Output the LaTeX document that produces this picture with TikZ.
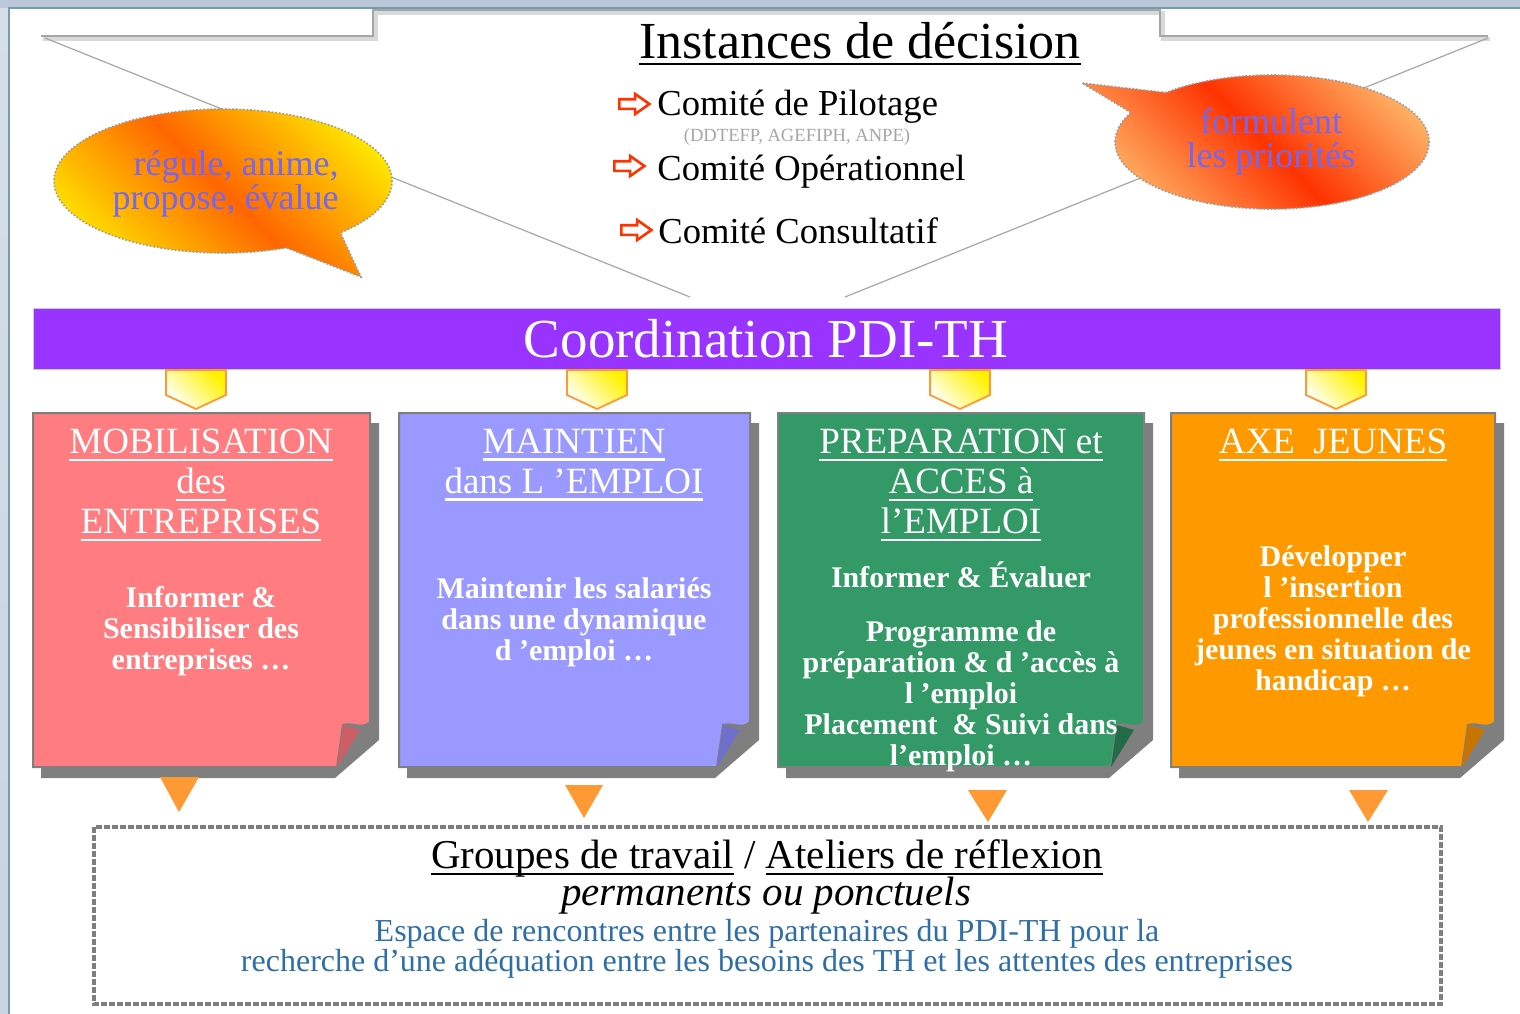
\documentclass[tikz,border=0pt]{standalone}
\usepackage{fontspec}
\setmainfont{Liberation Serif}
\usetikzlibrary{shapes.arrows}

\definecolor{pagebg}{HTML}{BCC8DA}
\definecolor{pageline}{HTML}{6FA0B0}
\definecolor{barpurple}{HTML}{9933FF}
\definecolor{mobred}{HTML}{FF7C80}
\definecolor{mobflap}{HTML}{CC5F66}
\definecolor{maintblue}{HTML}{9999FF}
\definecolor{maintflap}{HTML}{6F6FCC}
\definecolor{prepgreen}{HTML}{339966}
\definecolor{prepflap}{HTML}{236B47}
\definecolor{jeuneorange}{HTML}{FF9900}
\definecolor{jeuneflap}{HTML}{C87400}
\definecolor{notegray}{HTML}{7F7F7F}
\definecolor{droporange}{HTML}{FF9933}
\definecolor{arrowred}{HTML}{FF3300}
\definecolor{bubbletext}{HTML}{7766EE}
\definecolor{bubyellow}{HTML}{FFE800}
\definecolor{buborange}{HTML}{FF6600}
\definecolor{bubred}{HTML}{FF3300}
\definecolor{bubpeach}{HTML}{FFB366}
\definecolor{espaceblue}{HTML}{2E6FA7}

\newsavebox{\ulbox}
\newcommand{\ulbar}[1]{\sbox{\ulbox}{#1}\rlap{\rule[-3.6pt]{\wd\ulbox}{1.3pt}}\usebox{\ulbox}}

\tikzset{
  frameline/.style={draw=gray!70, line width=0.8pt},
  frameshadow/.style={draw=gray!30, line width=2pt},
  frameside/.style={draw=gray!70, line width=0.6pt},
  bubble/.style={draw=gray!80, densely dotted, line width=0.8pt},
  leftbubble/.style={top color=bubyellow, bottom color=bubyellow, middle color=buborange, shading angle=-45},
  rightbubble/.style={top color=bubpeach, bottom color=bubpeach, middle color=bubred, shading angle=-45},
  bubbletxt/.style={text=bubbletext, inner sep=0pt, font=\fontsize{18}{17}\selectfont},
  comarrow/.style={single arrow, draw=arrowred, fill=white, line width=1.3pt, inner sep=0pt,
    text height=3.5pt, text depth=0pt, minimum height=15pt, single arrow head extend=2.6pt,
    single arrow tip angle=70},
  comite/.style={inner sep=0pt, anchor=base west, font=\fontsize{18.3}{20}\selectfont},
  coordbar/.style={fill=barpurple, draw=gray!40, line width=0.5pt},
  chevron/.style={draw=droporange, line width=0.9pt, top color=yellow!90!orange, bottom color=white, shading angle=-45},
  note/.style={draw=notegray, line width=1pt},
  noteshadow/.style={fill=notegray},
  droptri/.style={fill=droporange},
  notetitle/.style={text=white, align=center, inner sep=0pt, anchor=north, font=\fontsize{18.5}{20}\selectfont},
  notebody/.style={text=white, align=center, inner sep=0pt, anchor=north, font=\bfseries\fontsize{15}{15.5}\selectfont},
  atelier/.style={draw=notegray, line width=2pt, dash pattern=on 3pt off 1pt},
}

\begin{document}
\begin{tikzpicture}[x=0.5pt, y=-0.5pt]
  \useasboundingbox (0,0) rectangle (1520,1013);
  % page
  \fill[pagebg] (0,0) rectangle (1520,1013);
  \shade[top color=pagebg!60!white, bottom color=pagebg!80!white] (0,8) rectangle (8,1013);
  \filldraw[fill=white, draw=pageline, line width=0.8pt] (9,8) rectangle (1530,1020);

  % decision area
  \draw[frameshadow] (43,39) -- (376,39) -- (376,13) -- (1163,13) -- (1163,39) -- (1490,39);
  \draw[frameline] (41,36) -- (373,36) -- (373,10) -- (1160,10) -- (1160,36) -- (1488,36);
  \draw[frameside] (45,38) -- (690,297);
  \draw[frameside] (1488,38) -- (845,297);

  \node[inner sep=0pt, anchor=base, font=\fontsize{26}{28}\selectfont] (instances) at (860,58) {\ulbar{Instances de décision}};
  \node[comarrow] (arrpil) at (631,104) {};
  \node[comarrow] (arrop) at (626,166) {};
  \node[comarrow] (arrcons) at (633,230) {};
  \node[comite] (pilotage) at (657,115) {Comité de Pilotage};
  \node[inner sep=0pt, anchor=base, text=gray!70, font=\fontsize{9.3}{10}\selectfont] (partenaires) at (797,141) {(DDTEFP, AGEFIPH, ANPE)};
  \node[comite] (operationnel) at (657,180) {Comité Opérationnel};
  \node[comite] (consultatif) at (658,243) {Comité Consultatif};

  % bubbles
  \begin{scope}[shift={(223,181)}]
    \draw[bubble, leftbubble] (68:169 and 72) -- (138,96) -- (46:169 and 72) arc[start angle=46, end angle=-292, x radius=169, y radius=72] -- cycle;
  \end{scope}
  \begin{scope}[shift={(1272,142)}]
    \draw[bubble, rightbubble] (206:157 and 67) -- (-190,-59) -- (227.5:157 and 67) arc[start angle=227.5, end angle=566, x radius=157, y radius=67] -- cycle;
  \end{scope}
  \node[bubbletxt, align=right, anchor=north east] (regule) at (339,150) {régule, anime,\\propose, évalue};
  \node[bubbletxt, align=center, anchor=north] (formulent) at (1271,108) {formulent\\les priorités};

  % coordination bar
  \fill[coordbar] (33,308) rectangle (1500,369);
  \node[inner sep=0pt, anchor=base, text=white, font=\fontsize{27.5}{30}\selectfont] (coordination) at (766,357) {Coordination PDI-TH};

  \draw[chevron] (166,370) -- (226,370) -- (226,395) -- (196,409) -- (166,395) -- cycle;
  \draw[chevron] (567,370) -- (627,370) -- (627,395) -- (597,409) -- (567,395) -- cycle;
  \draw[chevron] (930,370) -- (990,370) -- (990,395) -- (960,409) -- (930,395) -- cycle;
  \draw[chevron] (1306,370) -- (1366,370) -- (1366,395) -- (1336,409) -- (1306,395) -- cycle;

  % notes
  \fill[noteshadow] (41,423) -- (379,423) -- (379,740) -- (335,778) -- (41,778) -- cycle;
  \filldraw[note, fill=mobred] (33,413) -- (370,413) -- (370,722) .. controls (362,730) and (352,722) .. (343,725) -- (337,767) -- (33,767) -- cycle;
  \fill[mobflap] (343,725) -- (337,767) -- (360,730) -- cycle;

  \fill[noteshadow] (407,423) -- (759,423) -- (759,740) -- (715,778) -- (407,778) -- cycle;
  \filldraw[note, fill=maintblue] (399,413) -- (750,413) -- (750,722) .. controls (742,730) and (732,722) .. (723,725) -- (717,767) -- (399,767) -- cycle;
  \fill[maintflap] (723,725) -- (717,767) -- (740,730) -- cycle;

  \fill[noteshadow] (786,423) -- (1153,423) -- (1153,740) -- (1109,778) -- (786,778) -- cycle;
  \filldraw[note, fill=prepgreen] (778,413) -- (1144,413) -- (1144,722) .. controls (1136,730) and (1126,722) .. (1117,725) -- (1111,767) -- (778,767) -- cycle;
  \fill[prepflap] (1117,725) -- (1111,767) -- (1134,730) -- cycle;

  \fill[noteshadow] (1179,423) -- (1504,423) -- (1504,740) -- (1460,778) -- (1179,778) -- cycle;
  \filldraw[note, fill=jeuneorange] (1171,413) -- (1495,413) -- (1495,722) .. controls (1487,730) and (1477,722) .. (1468,725) -- (1462,767) -- (1171,767) -- cycle;
  \fill[jeuneflap] (1468,725) -- (1462,767) -- (1485,730) -- cycle;

  \node[notetitle] (mobtitle) at (201,429) {\ulbar{MOBILISATION}\\\ulbar{des}\\\ulbar{ENTREPRISES}};
  \node[notebody] (mobtext) at (201,586) {Informer \&\\Sensibiliser des\\entreprises …};
  \node[notetitle] (mainttitle) at (574,429) {\ulbar{MAINTIEN}\\\ulbar{dans L ’EMPLOI}};
  \node[notebody] (mainttext) at (574,577) {Maintenir les salariés\\dans une dynamique\\d ’emploi …};
  \node[notetitle] (preptitle) at (961,429) {\ulbar{PREPARATION et}\\\ulbar{ACCES à}\\\ulbar{l’EMPLOI}};
  \node[notebody] (preptext) at (961,561) {Informer \& Évaluer\\[11.5pt]Programme de\\préparation \& d ’accès à\\l ’emploi\\Placement~ \& Suivi dans\\l’emploi …};
  \node[notetitle] (jeunestitle) at (1333,429) {\ulbar{AXE~ JEUNES}};
  \node[notebody] (jeunestext) at (1333,545) {Développer\\l ’insertion\\professionnelle des\\jeunes en situation de\\handicap …};

  \fill[droptri] (160,777) -- (199,777) -- (179,812) -- cycle;
  \fill[droptri] (565,785) -- (603,785) -- (584,818) -- cycle;
  \fill[droptri] (968,790) -- (1007,790) -- (988,822) -- cycle;
  \fill[droptri] (1349,790) -- (1388,790) -- (1368,822) -- cycle;

  % working groups
  \draw[atelier] (94,827) rectangle (1441,1004);
  \node[inner sep=0pt, anchor=base, font=\fontsize{20.5}{22}\selectfont] (groupes) at (767,868) {\ulbar{Groupes de travail} / \ulbar{Ateliers de réflexion}};
  \node[inner sep=0pt, anchor=base, font=\itshape\fontsize{20.5}{22}\selectfont] (permanents) at (766,905) {permanents ou ponctuels};
  \node[inner sep=0pt, anchor=north, align=center, text=espaceblue, font=\fontsize{16}{15}\selectfont] (espace) at (767,919) {Espace de rencontres entre les partenaires du PDI-TH pour la\\recherche d’une adéquation entre les besoins des TH et les attentes des entreprises};
\end{tikzpicture}
\end{document}
